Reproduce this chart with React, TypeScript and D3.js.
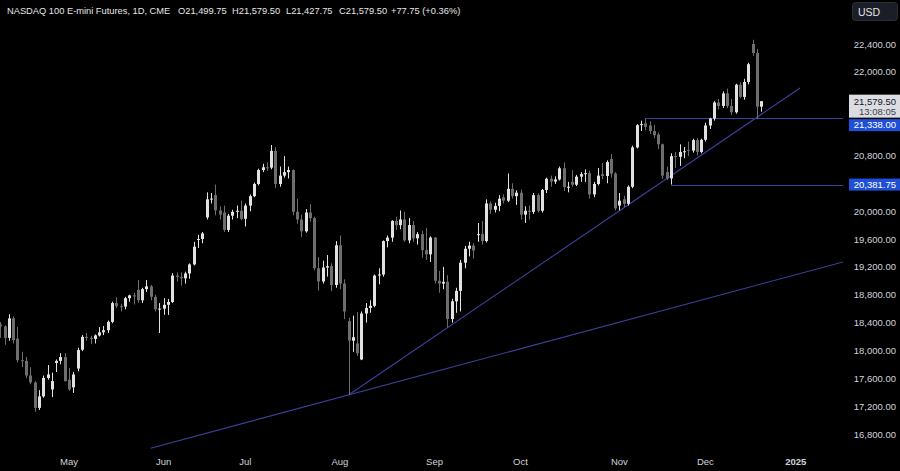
import React from "react";
import * as d3 from "d3";

// ---------- DATA (NASDAQ 100 E-mini futures, daily) : [day, open, high, low, close]
const apr2024 = [
  [9, 18375, 18410, 18180, 18345],
  [10, 18345, 18360, 18080, 18180],
  [11, 18180, 18520, 18140, 18460],
  [12, 18460, 18490, 18100, 18145],
  [15, 18170, 18340, 17830, 17860],
  [16, 17860, 17980, 17760, 17850],
  [17, 17850, 17905, 17600, 17640],
  [18, 17640, 17760, 17515, 17540],
  [19, 17540, 17560, 17120, 17175],
  [22, 17175, 17430, 17145, 17340],
  [23, 17340, 17640, 17320, 17605],
  [24, 17605, 17790, 17580, 17655],
  [25, 17440, 17680, 17330, 17560],
  [26, 17820, 17870, 17690, 17850],
  [29, 17850, 17960, 17800, 17905],
  [30, 17905, 17960, 17550, 17560],
];
const may2024 = [
  [1, 17580, 17750, 17420, 17440],
  [2, 17470, 17690, 17390, 17655],
  [3, 17740, 18040, 17700, 18005],
  [6, 18010, 18220, 17990, 18195],
  [7, 18195, 18250, 18140, 18180],
  [8, 18180, 18210, 18090, 18165],
  [9, 18165, 18230, 18100, 18215],
  [10, 18215, 18335, 18200, 18260],
  [13, 18260, 18350, 18220, 18290],
  [14, 18290, 18430, 18250, 18410],
  [15, 18410, 18700, 18390, 18680],
  [16, 18680, 18760, 18610, 18635],
  [17, 18635, 18670, 18560, 18630],
  [20, 18630, 18770, 18590, 18750],
  [21, 18750, 18800, 18700, 18790],
  [22, 18790, 18830, 18660, 18780],
  [23, 18870, 19010, 18680, 18720],
  [24, 18720, 18900, 18680, 18880],
  [28, 18880, 19010, 18840, 18920],
  [29, 18920, 18940, 18720, 18770],
  [30, 18770, 18800, 18560, 18590],
  [31, 18590, 18680, 18250, 18600],
];
const jun2024 = [
  [3, 18600, 18750, 18510, 18655],
  [4, 18655, 18740, 18510, 18695],
  [5, 18695, 19110, 18680, 19075],
  [6, 19075, 19120, 18990, 19055],
  [7, 19055, 19120, 18930, 19035],
  [10, 19035, 19130, 18960, 19105],
  [11, 19105, 19250, 19030, 19235],
  [12, 19235, 19560, 19220, 19490],
  [13, 19590, 19660, 19470, 19600],
  [14, 19600, 19700, 19540, 19680],
  [17, 19910, 20270, 19880, 20170],
  [18, 20170, 20260, 20110, 20180],
  [20, 20230, 20380, 19940, 20010],
  [21, 20010, 20070, 19880, 19950],
  [24, 19980, 20080, 19700, 19730],
  [25, 19730, 19960, 19700, 19935],
  [26, 19935, 20020, 19880, 19990],
  [27, 19990, 20080, 19900, 20005],
  [28, 20005, 20150, 19870, 19890],
];
const jul2024 = [
  [1, 19890, 20110, 19780, 20080],
  [2, 20080, 20240, 20000, 20215],
  [3, 20215, 20410, 20200, 20390],
  [5, 20390, 20610, 20370, 20590],
  [8, 20590, 20680, 20560, 20630],
  [9, 20630, 20700, 20580, 20625],
  [10, 20625, 20950, 20600, 20865],
  [11, 20865, 20920, 20330, 20390],
  [12, 20390, 20640, 20350, 20510],
  [15, 20510, 20790, 20480, 20560],
  [16, 20560, 20640, 20470, 20590],
  [17, 20590, 20600, 19940, 19990],
  [18, 19990, 20180, 19820, 19880],
  [19, 19880, 19950, 19630, 19710],
  [22, 19710, 20030, 19690, 19980],
  [23, 19980, 20100, 19850, 19900],
  [24, 19900, 19920, 19150, 19180],
  [25, 19180, 19340, 18860, 18990],
  [26, 18990, 19290, 18960, 19190],
  [29, 19190, 19370, 19060, 19210],
  [30, 19210, 19250, 18850, 18940],
  [31, 18940, 19570, 18900, 19510],
];
const aug2024 = [
  [1, 19510, 19650, 18880, 18960],
  [2, 18960, 19020, 18450, 18560],
  [5, 18420, 18470, 17360, 18140],
  [6, 18140, 18500, 17980, 18190],
  [7, 18100, 18550, 17920, 17960],
  [8, 17870, 18560, 17860, 18530],
  [9, 18530, 18680, 18400, 18610],
  [12, 18610, 18720, 18540, 18640],
  [13, 18640, 19090, 18620, 19075],
  [14, 19075, 19180, 18950, 19090],
  [15, 19090, 19580, 19060, 19570],
  [16, 19570, 19650, 19480, 19620],
  [19, 19620, 19870, 19560, 19860],
  [20, 19860, 19920, 19730, 19800],
  [21, 19800, 20010, 19740, 19880],
  [22, 19880, 19990, 19560, 19580],
  [23, 19580, 19900, 19540, 19800],
  [26, 19800, 19860, 19560, 19610],
  [27, 19610, 19700, 19520, 19670],
  [28, 19670, 19720, 19330, 19440],
  [29, 19440, 19760, 19300, 19380],
  [30, 19380, 19640, 19270, 19620],
];
const sep2024 = [
  [3, 19620, 19630, 18960, 19000],
  [4, 19000, 19140, 18830, 18960],
  [5, 18960, 19200, 18880, 18985],
  [6, 18985, 19080, 18330, 18450],
  [9, 18450, 18740, 18400, 18705],
  [10, 18705, 18900, 18540, 18855],
  [11, 18855, 19300, 18560, 19260],
  [12, 19260, 19500, 19180, 19460],
  [13, 19460, 19560, 19350, 19505],
  [16, 19505, 19540, 19320, 19435],
  [17, 19660, 19830, 19560, 19670],
  [18, 19670, 19860, 19520, 19570],
  [19, 19570, 20170, 19550, 20110],
  [20, 20110, 20140, 19960, 20020],
  [23, 20020, 20120, 19980, 20075],
  [24, 20075, 20230, 20000, 20180],
  [25, 20200, 20240, 20110, 20150],
  [26, 20150, 20540, 20130, 20320],
  [27, 20320, 20400, 20180, 20215],
  [30, 20215, 20300, 20090, 20265],
];
const oct2024 = [
  [1, 20265, 20310, 19880, 19950],
  [2, 19950, 20070, 19830, 20005],
  [3, 20005, 20080, 19880, 19990],
  [4, 19990, 20260, 19960, 20230],
  [7, 20230, 20260, 19980, 20005],
  [8, 20005, 20320, 19980, 20305],
  [9, 20305, 20480, 20260, 20465],
  [10, 20465, 20510, 20350, 20425],
  [11, 20425, 20500, 20390, 20455],
  [14, 20455, 20640, 20440, 20615],
  [15, 20615, 20700, 20290, 20345],
  [16, 20345, 20420, 20270, 20350],
  [17, 20420, 20590, 20350, 20380],
  [18, 20380, 20520, 20360, 20495],
  [21, 20495, 20560, 20420, 20530],
  [22, 20530, 20600, 20420, 20545],
  [23, 20545, 20580, 20180, 20240],
  [24, 20240, 20420, 20200, 20390],
  [25, 20390, 20620, 20370, 20510],
  [28, 20530, 20690, 20460, 20505],
  [29, 20505, 20730, 20400, 20705],
  [30, 20750, 20820, 20480, 20540],
  [31, 20540, 20560, 20010, 20040],
];
const nov2024 = [
  [1, 20080, 20260, 20010, 20150],
  [4, 20170, 20220, 20060, 20105],
  [5, 20105, 20370, 20080, 20350],
  [6, 20350, 20940, 20330, 20915],
  [7, 20915, 21250, 20900, 21235],
  [8, 21235, 21300, 21150, 21250],
  [11, 21260, 21338, 21160, 21210],
  [12, 21230, 21290, 21110, 21150],
  [13, 21150, 21240, 21050, 21090],
  [14, 21100, 21130, 20890, 20960],
  [15, 20960, 20970, 20460, 20510],
  [18, 20560, 20640, 20450, 20470],
  [19, 20470, 20830, 20381.75, 20790],
  [20, 20790, 20850, 20620, 20780],
  [21, 20780, 20960, 20650, 20850],
  [22, 20850, 20920, 20760, 20860],
  [25, 20880, 21000, 20790, 20870],
  [26, 20870, 21040, 20840, 21020],
  [27, 21020, 21050, 20800, 20850],
  [29, 20850, 21040, 20830, 21025],
];
const dec2024 = [
  [2, 21025, 21270, 21000, 21230],
  [3, 21230, 21340, 21180, 21330],
  [4, 21330, 21580, 21300, 21560],
  [5, 21560, 21610, 21460, 21510],
  [6, 21510, 21720, 21480, 21690],
  [9, 21690, 21760, 21480, 21510],
  [10, 21510, 21610, 21380, 21420],
  [11, 21420, 21830, 21400, 21815],
  [12, 21815, 21850, 21620, 21640],
  [13, 21640, 21900, 21600, 21855],
  [16, 21855, 22130, 21820, 22110],
  [17, 22400, 22460, 22230, 22270],
  [18, 22270, 22330, 21320, 21500],
  [19, 21499.75, 21579.5, 21427.75, 21579.5],
];
// upcoming sessions (empty space on the right of the chart)
const futureSessions = ["2024-12-20", "2024-12-23", "2024-12-24", "2024-12-26", "2024-12-27", "2024-12-30", "2024-12-31", "2025-01-02", "2025-01-03"];

const monthLabels = ["May", "Jun", "Jul", "Aug", "Sep", "Oct", "Nov", "Dec", "2025"];
const monthLabelDates = ["2024-05-01", "2024-06-03", "2024-07-01", "2024-08-01", "2024-09-03", "2024-10-01", "2024-11-01", "2024-12-02", "2025-01-02"];

const priceTicks = [16800, 17200, 17600, 18000, 18400, 18800, 19200, 19600, 20000, 20400, 20800, 21200, 21600, 22000, 22400];

// drawn objects: trend lines [date, price] anchors, horizontal levels
const trendA = [["2024-08-05", 17360], ["2025-01-03", 21768]];
const trendB = [["2024-05-29", 16596], ["2025-01-03", 19104]];
const levels = [["2024-11-11", 21338], ["2024-11-19", 20381.75]];

const headerTitle = "NASDAQ 100 E-mini Futures, 1D, CME";
const headerValues = ["O21,499.75", "H21,579.50", "L21,427.75", "C21,579.50", "+77.75 (+0.36%)"];
const lastPrice = 21579.5;
const countdown = "13:08:05";

// ---------- build
const monthKeys = ["2024-04", "2024-05", "2024-06", "2024-07", "2024-08", "2024-09", "2024-10", "2024-11", "2024-12"];
const monthRows = [apr2024, may2024, jun2024, jul2024, aug2024, sep2024, oct2024, nov2024, dec2024];
const candles = monthRows.flatMap((rows, mi) =>
  rows.map((r) => ({
    date: `${monthKeys[mi]}-${String(r[0]).padStart(2, "0")}`,
    o: r[1], h: r[2], l: r[3], c: r[4],
  }))
);
const sessions = [...candles.map((c) => c.date), ...futureSessions];
const idx = (d: string) => sessions.indexOf(d);

const W = 900, H = 471;
const PLOT_R = 843, PLOT_B = 450;
const FONT = "'Liberation Sans', Arial, sans-serif";
const UP = "#e2e2e2", DOWN = "#6e6e6e";
const LINE = "#3a429c";

const x = d3.scaleLinear().domain([0, idx("2025-01-02")]).range([0.2, 795.7]);
const y = d3.scaleLinear().domain([16800, 22400]).range([434, 44]);
const fmt = d3.format(",.2f");

function lineThrough(pts: any[], extendRight: boolean) {
  const x1 = x(idx(pts[0][0])), y1 = y(pts[0][1]);
  const x2 = x(idx(pts[1][0])), y2 = y(pts[1][1]);
  if (!extendRight) return { x1, y1, x2, y2 };
  const xe = PLOT_R + 2;
  return { x1, y1, x2: xe, y2: y1 + ((y2 - y1) * (xe - x1)) / (x2 - x1) };
}

export default function App() {
  const lA = lineThrough(trendA, false);
  const lB = lineThrough(trendB, true);

  // right-axis price labels with overlap push-down
  const lastTop = y(lastPrice) - 6.5;
  const lastBox = { top: lastTop, h: 23 };
  let prevBottom = lastBox.top + lastBox.h;
  const levelBoxes = levels
    .map((l) => ({ price: l[1] as number, natural: y(l[1] as number) - 6 }))
    .sort((a, b) => a.natural - b.natural)
    .map((b) => {
      const top = Math.max(b.natural, prevBottom + 1.5);
      prevBottom = top + 12;
      return { ...b, top };
    });
  const occupied = [[lastBox.top, lastBox.top + lastBox.h], ...levelBoxes.map((b) => [b.top, b.top + 12])];
  const visibleTicks = priceTicks.filter((p) => {
    const yy = y(p);
    return !occupied.some(([a, b]) => yy + 5 > a && yy - 5 < b);
  });

  const headerX = [178, 232, 286, 339, 391];

  return (
    <svg width={W} height={H} style={{ position: "absolute", left: 0, top: 0, display: "block" }} fontFamily={FONT}>
      <rect x={0} y={0} width={W} height={H} fill="#000000" />
      <defs>
        <clipPath id="plot">
          <rect x={0} y={0} width={PLOT_R} height={PLOT_B} />
        </clipPath>
      </defs>

      <g clipPath="url(#plot)">
        {/* trend lines & levels */}
        <line {...lA} stroke={LINE} strokeWidth={1.1} />
        <line {...lB} stroke={LINE} strokeWidth={1.1} />
        {levels.map((l, i) => (
          <line key={i} x1={x(idx(l[0] as string))} x2={PLOT_R} y1={Math.round(y(l[1] as number)) + 0.5} y2={Math.round(y(l[1] as number)) + 0.5} stroke={LINE} strokeWidth={1.1} />
        ))}

        {/* candles */}
        {candles.map((c, i) => {
          const cx = Math.round(x(i));
          const up = c.c >= c.o;
          const col = up ? UP : DOWN;
          const top = y(Math.max(c.o, c.c));
          const bot = y(Math.min(c.o, c.c));
          return (
            <g key={c.date}>
              <line x1={cx + 0.5} x2={cx + 0.5} y1={y(c.h)} y2={y(c.l)} stroke={col} strokeWidth={1} />
              <rect x={cx - 1} y={top} width={3} height={Math.max(1, bot - top)} fill={col} />
            </g>
          );
        })}
      </g>

      {/* header */}
      <text x={7} y={14} fill="#e6e6e6" fontSize={9.3}>{headerTitle}</text>
      {headerValues.map((t, i) => (
        <text key={t} x={headerX[i]} y={14} fill="#e6e6e6" fontSize={9.3}>{t}</text>
      ))}

      {/* USD box */}
      <rect x={852.5} y={2.5} width={45} height={18} rx={3} fill="#1b1e26" stroke="#2a2e39" />
      <text x={858} y={15.5} fill="#e6e6e6" fontSize={10.5}>USD</text>

      {/* price axis */}
      {visibleTicks.map((p) => (
        <text key={p} x={896} y={y(p) + 3.5} textAnchor="end" fill="#d1d4dc" fontSize={9.5}>{fmt(p)}</text>
      ))}

      {/* last price label */}
      <rect x={849} y={lastBox.top} width={51} height={lastBox.h} fill="#dcdde2" />
      <text x={896} y={lastBox.top + 10} textAnchor="end" fill="#131722" fontSize={9.5}>{fmt(lastPrice)}</text>
      <text x={896} y={lastBox.top + 20.5} textAnchor="end" fill="#3b3f4a" fontSize={9.5}>{countdown}</text>

      {/* level labels */}
      {levelBoxes.map((b) => (
        <g key={b.price}>
          <rect x={849} y={b.top} width={51} height={12} fill="#1f4fd6" />
          <text x={896} y={b.top + 9.3} textAnchor="end" fill="#ffffff" fontSize={9.5}>{fmt(b.price)}</text>
        </g>
      ))}

      {/* time axis */}
      {monthLabels.map((m, i) => (
        <text key={m} x={x(idx(monthLabelDates[i]))} y={465} textAnchor="middle" fill="#d1d4dc" fontSize={9.5} fontWeight={m === "2025" ? "bold" : "normal"}>{m}</text>
      ))}
    </svg>
  );
}
